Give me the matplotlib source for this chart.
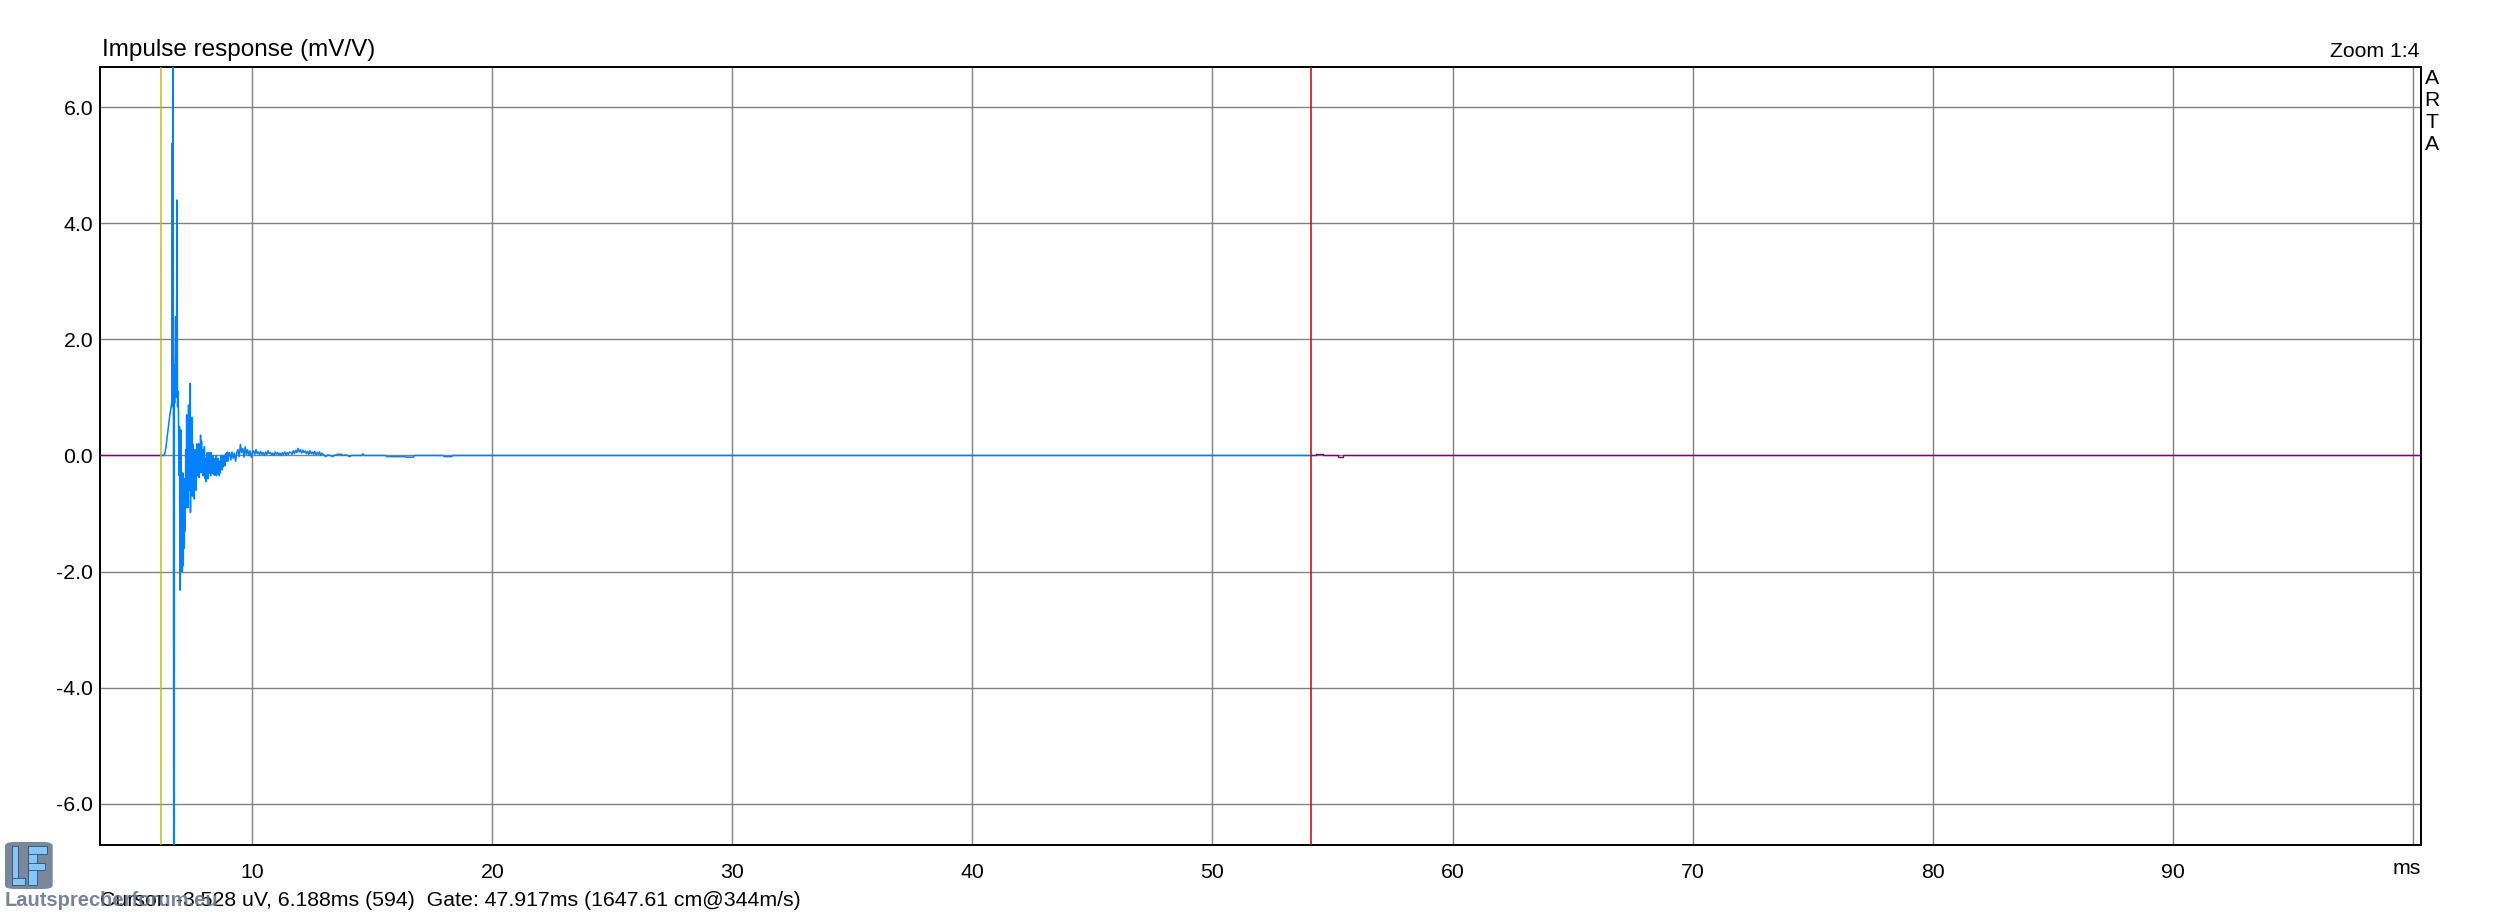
import numpy as np
import matplotlib
matplotlib.use('Agg')
import matplotlib.pyplot as plt
from matplotlib.patches import FancyBboxPatch, Rectangle

plt.rcParams['font.family'] = ['Liberation Sans', 'DejaVu Sans']

# impulse response readings (mV/V)
# segment A: start 6.20 ms, step 0.02 ms
seg_a_start = 6.20
seg_a_step = 0.02
seg_a_vals = [0, 0, 0, 0, 0, 0, 0,
              0.02, 0.06, 0.10, 0.15, 0.22, 0.30, 0.36, 0.42, 0.50, 0.58, 0.63, 0.70, 0.76, 0.80, 0.86, 0.92,
              5.38, 0.84, 7.5, -7.5, 1.55, 0.9, 1.5, 2.39, 1.0, 2.2, 4.40, 0.84, 1.1, 0.67, -0.34, 0.5, -2.32, -1.0,
              0.44, -2.0, -0.5, -2.0, -0.3, -1.9, -0.6, -1.6, -0.4, -1.3,
              0.1, -0.9, 0.7, -0.8, 0.5, -0.9, 0.87, -0.6, 0.4, 1.24,
              -0.98, 0.3, -0.5, 0.66, -0.7, 0.2, -0.6, 0.05, -0.75, 0.1,
              -0.5, -0.1, -0.6, 0.2, -0.35, 0.1, -0.3, 0.2, -0.38, 0.05,
              -0.2, 0.35, -0.3, 0.25, -0.25, 0.1, -0.35, 0.0, -0.3, 0.15,
              -0.4, -0.05, -0.45, -0.1, -0.35, 0.05, -0.4, -0.1, -0.3, 0.05,
              -0.3, -0.05, -0.35, 0.05, -0.25, -0.05, -0.3, 0.0, -0.32, -0.1,
              -0.34, -0.05, -0.3, 0.0, -0.35, -0.15, -0.3, -0.05, -0.32, -0.1,
              -0.35, -0.15, -0.3, 0.0, -0.2, -0.05, -0.25, 0.0, -0.2, -0.05,
              -0.15, 0.0, -0.18, 0.02, -0.1, 0.05, -0.08, 0.06, -0.1, 0.0]
# segment B: start 9.05 ms, step 0.05 ms
seg_b_start = 9.05
seg_b_step = 0.05
seg_b_vals = [0.05, -0.08, 0.06, -0.05, 0.04, -0.1, 0.05,
              0.1, -0.02, 0.19, 0.05, 0.12, -0.03, 0.15, 0.02,
              0.1, 0.0, 0.08, -0.03, 0.05,
              0.08, 0.02, 0.1, 0.03, 0.06, 0.01, 0.07, 0.02, 0.05, 0.0, 0.06, 0.02, 0.08, 0.03, 0.05, 0.01,
              0.04, 0.0, 0.06, 0.02, 0.05, 0.01, 0.04, 0.0, 0.05, 0.02, 0.06, 0.01, 0.05, 0.02, 0.06,
              0.05, 0.02, 0.08, 0.03, 0.09, 0.05, 0.12, 0.06, 0.1, 0.04, 0.09, 0.05, 0.08, 0.03, 0.07, 0.02,
              0.08, 0.03, 0.06, 0.02, 0.07, 0.01, 0.05, 0.02, 0.06, 0.0, 0.04]
# tail up to the gate end
tail_t = [12.95, 13.05, 13.15, 13.36, 13.40, 13.55, 13.73, 13.78, 13.9, 13.95, 14.06, 14.12, 14.55,
          14.60, 14.65, 15.55, 15.60, 16.35, 16.42, 16.70, 16.75, 17.94, 18.0, 18.3, 18.35, 54.105]
tail_v = [0.02, -0.02, 0.01, -0.02, 0.0, 0.02, 0.02, 0.0, 0.01, 0.0, -0.02, 0.0, 0.0,
          0.03, 0.0, 0.0, -0.02, -0.02, -0.03, -0.03, 0.0, 0.0, -0.02, -0.02, 0.0, 0.0]
# outside the gate (purple)
pre_t = [3.65, 6.20]
pre_v = [0.0, 0.0]
post_t = [54.105, 54.27, 54.30, 54.55, 54.59, 55.20, 55.23, 55.40, 55.43, 100.35]
post_v = [0.0, 0.0, 0.02, 0.02, 0.0, 0.0, -0.02, -0.02, 0.0, 0.0]

cursor_ms = 6.188
gate_end_ms = 6.188 + 47.917

x_ticks = [10, 20, 30, 40, 50, 60, 70, 80, 90]
y_ticks = [-6.0, -4.0, -2.0, 0.0, 2.0, 4.0, 6.0]

t_a = seg_a_start + seg_a_step * np.arange(len(seg_a_vals))
t_b = seg_b_start + seg_b_step * np.arange(len(seg_b_vals))
t_in = np.concatenate([t_a, t_b, tail_t])
v_in = np.concatenate([seg_a_vals, seg_b_vals, tail_v])

W, H = 2493, 917
fig = plt.figure(figsize=(W / 100, H / 100), dpi=100)
fig.patch.set_facecolor('white')
ax = fig.add_axes([100 / W, 1 - 845 / H, (2421 - 100) / W, (845 - 66.5) / H])

ax.set_xlim(3.65, 100.35)
ax.set_ylim(-6.71, 6.70)
ax.set_xticks(x_ticks + [100])
ax.set_xticklabels([str(v) for v in x_ticks] + [''])
ax.set_yticks(y_ticks)
ax.set_yticklabels(['%.1f' % v for v in y_ticks])
ax.tick_params(length=0, labelsize=15.3, colors='black')
ax.tick_params(axis='x', pad=13)
ax.tick_params(axis='y', pad=5)
ax.grid(True, color='#808080', linewidth=1.0)
ax.set_axisbelow(True)
for s in ax.spines.values():
    s.set_color('black')
    s.set_linewidth(1.4)

ax.plot(pre_t, pre_v, color='#800080', linewidth=1.0, zorder=3)
ax.plot(post_t, post_v, color='#800080', linewidth=1.0, zorder=3, drawstyle='steps-post')
ax.plot(t_in, v_in, color='#0080ff', linewidth=1.1, zorder=4)
ax.axvline(cursor_ms, color='#bfbf20', linewidth=1.1, zorder=5)
ax.axvline(gate_end_ms, color='#cc0000', linewidth=1.1, zorder=5)

fig.text(2421 / W, 1 - 869 / H, 'ms', fontsize=15.3, va='center', ha='right')

fig.text(101.7 / W, 1 - 56 / H, 'Impulse response (mV/V)', fontsize=17.5, va='baseline', ha='left')
fig.text(2420 / W, 1 - 56.7 / H, 'Zoom 1:4', fontsize=15.3, va='baseline', ha='right')
for i, ch in enumerate('ARTA'):
    fig.text(2432 / W, 1 - (78 + 22 * i) / H, ch, fontsize=15.3, va='center', ha='center')
fig.text(100 / W, 1 - 906 / H,
         'Cursor: -3.528 uV, 6.188ms (594)  Gate: 47.917ms (1647.61 cm@344m/s)',
         fontsize=15.3, va='baseline', ha='left')

# forum watermark logo
def px_rect(x0, y0, x1, y1, **kw):
    return Rectangle((x0 / W, 1 - y1 / H), (x1 - x0) / W, (y1 - y0) / H,
                     transform=fig.transFigure, **kw)

box = FancyBboxPatch((5 / W, 1 - 889 / H), 47.7 / W, 47 / H,
                     boxstyle='round,pad=0,rounding_size=0.004',
                     transform=fig.transFigure, facecolor='#6b7a93', edgecolor='none', alpha=0.9)
fig.patches.append(box)
for r in [(11.7, 845.7, 18.3, 885), (11.7, 878, 25, 885),
          (28.3, 845.7, 36.7, 885), (28.3, 845.7, 46.7, 854), (28.3, 863, 45, 870)]:
    fig.patches.append(px_rect(*r, facecolor='#80c8ff', edgecolor='#3c4c66', linewidth=0.6))
fig.text(5 / W, 1 - 906 / H, 'Lautsprecherforum.eu', fontsize=14.5, fontweight='bold',
         color='#5f6f88', alpha=0.85, va='baseline', ha='left')

fig.savefig('out.png', dpi=100, facecolor='white')
